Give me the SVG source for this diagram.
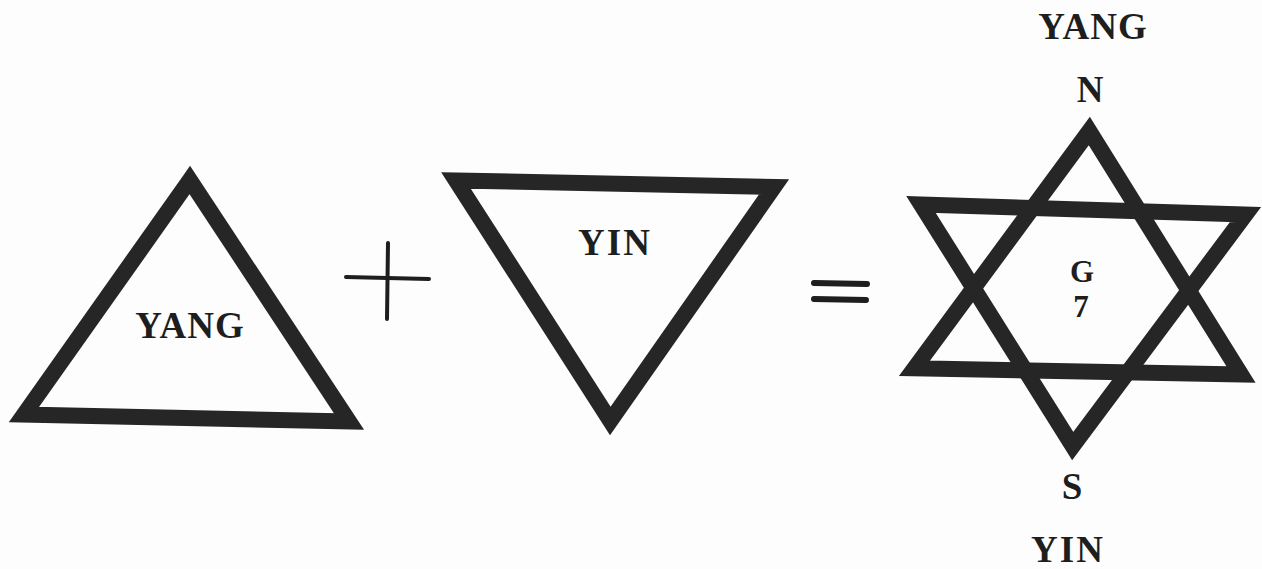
<svg xmlns="http://www.w3.org/2000/svg" width="1262" height="569" viewBox="0 0 1262 569">
<style>
.tri{fill:none;stroke:#262626;stroke-width:16;stroke-linejoin:miter;stroke-miterlimit:10}
.lbl{font-family:"Liberation Serif","Times New Roman",serif;font-weight:bold;fill:#1e1e1e;text-anchor:middle;font-size:37px;letter-spacing:1px}
.ln{stroke:#1e1e1e;stroke-linecap:round}
</style>
<rect width="1262" height="569" fill="#fdfdfd"/>
<g id="yang-triangle">
<polygon class="tri" points="189.8,180 24,414.5 349,421.5"/>
<text class="lbl" x="190" y="338">YANG</text>
</g>
<g id="plus">
<line class="ln" x1="388" y1="243" x2="387" y2="319" stroke-width="4"/>
<line class="ln" x1="346" y1="277" x2="429" y2="279" stroke-width="4"/>
</g>
<g id="yin-triangle">
<polygon class="tri" points="456,180.5 774,187 610.3,421"/>
<text class="lbl" x="615" y="255" style="letter-spacing:2px">YIN</text>
</g>
<g id="equals">
<line class="ln" x1="814" y1="283" x2="867" y2="284" stroke-width="6"/>
<line class="ln" x1="814" y1="299" x2="866" y2="300" stroke-width="6"/>
</g>
<g id="star">
<polygon class="tri" points="1089.3,131 914.5,368.3 1241,374.5"/>
<polygon class="tri" points="921,204.5 1245.5,214.6 1072.7,446"/>
<text class="lbl" x="1082" y="282" style="font-size:31px;letter-spacing:0">G</text>
<text class="lbl" x="1081" y="317" style="font-size:31px;letter-spacing:0">7</text>
</g>
<g id="labels">
<text class="lbl" x="1093" y="39">YANG</text>
<text class="lbl" x="1090" y="102" style="letter-spacing:0">N</text>
<text class="lbl" x="1072" y="499" style="letter-spacing:0">S</text>
<text class="lbl" x="1068" y="562" style="letter-spacing:2px">YIN</text>
</g>
</svg>
